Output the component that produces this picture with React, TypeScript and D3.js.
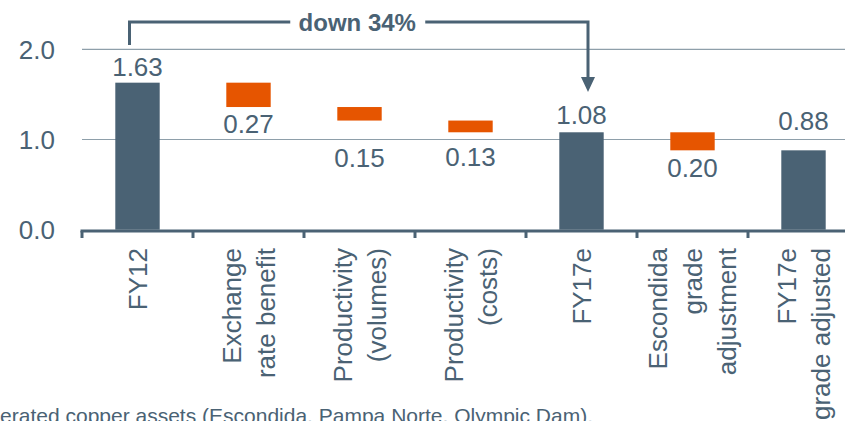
import React from "react";
import * as d3 from "d3";

const categories: string[][] = [
  ["FY12"],
  ["Exchange", "rate benefit"],
  ["Productivity", "(volumes)"],
  ["Productivity", "(costs)"],
  ["FY17e"],
  ["Escondida", "grade", "adjustment"],
  ["FY17e", "grade adjusted"],
];
const values: number[] = [1.63, -0.27, -0.15, -0.13, 1.08, -0.2, 0.88];
const isTotal: boolean[] = [true, false, false, false, true, false, true];
const valueLabels: string[] = ["1.63", "0.27", "0.15", "0.13", "1.08", "0.20", "0.88"];
const yTicks: number[] = [0, 1, 2];
const yTickLabels: string[] = ["0.0", "1.0", "2.0"];
const annotationText = "down 34%";
const footnote = "operated copper assets (Escondida, Pampa Norte, Olympic Dam).";

const W = 845;
const H = 421;
const SLATE = "#4a6274";
const ORANGE = "#e65500";
const GRID = "#8e9faa";
const FONT = "'Liberation Sans', Arial, sans-serif";

// label offsets (layout only)
const labelDy = [-7, 26, 46, 33.5, -8.5, 27, -20.5];

export default function App() {
  const keys = categories.map((_, i) => String(i));
  const x0 = 82;
  const x1 = 82 + 111 * 7;
  const x = d3.scaleBand<string>().domain(keys).range([x0, x1]).paddingInner(0.6).paddingOuter(0.3);
  const xb = d3.scaleBand<string>().domain(keys).range([x0, x1]).padding(0);
  const y = d3.scaleLinear().domain([0, 2]).range([229.7, 49.3]);

  // waterfall computation
  let running = 0;
  const bars = values.map((v, i) => {
    let top: number, bottom: number;
    if (isTotal[i]) {
      running = v;
      top = v;
      bottom = 0;
    } else {
      const start = running;
      running = start + v;
      top = Math.max(start, running);
      bottom = Math.min(start, running);
    }
    return { i, top, bottom, total: isTotal[i] };
  });

  const axisY = 231;
  const bw = x.bandwidth();

  const c0 = x(keys[0])! + bw / 2;
  const c4 = x(keys[4])! + bw / 2;
  const leftX = c0 - 8;
  const rightX = c4 + 6.5;
  const bracketTop = 22;
  const textX = (leftX + rightX) / 2 - 1.5;
  const arrowTip = 92;

  return (
    <svg width={W} height={H} style={{ position: "absolute", left: 0, top: 0 }} fontFamily={FONT}>
      <rect x={0} y={0} width={W} height={H} fill="#fff" />
      {/* gridlines */}
      {yTicks.filter((t) => t > 0).map((t) => (
        <line key={t} x1={x0} x2={W} y1={y(t)} y2={y(t)} stroke={GRID} strokeWidth={1.2} />
      ))}
      {/* y tick labels */}
      {yTicks.map((t, i) => (
        <text key={t} x={55} y={y(t) + 9.5} textAnchor="end" fontSize={26} fill={SLATE}>
          {yTickLabels[i]}
        </text>
      ))}
      {/* bars */}
      {bars.map((b) => (
        <rect
          key={b.i}
          x={x(keys[b.i])!}
          y={y(b.top)}
          width={bw}
          height={y(b.bottom) - y(b.top)}
          fill={b.total ? SLATE : ORANGE}
        />
      ))}
      {/* value labels */}
      {bars.map((b) => (
        <text
          key={b.i}
          x={x(keys[b.i])! + bw / 2}
          y={(b.total ? y(b.top) : y(b.bottom)) + labelDy[b.i]}
          textAnchor="middle"
          fontSize={26}
          fill={SLATE}
        >
          {valueLabels[b.i]}
        </text>
      ))}
      {/* x axis */}
      <line x1={x0 - 1.5} x2={W} y1={axisY} y2={axisY} stroke={SLATE} strokeWidth={3} />
      {keys.map((k) => (
        <line key={k} x1={xb(k)!} x2={xb(k)!} y1={axisY} y2={238} stroke={SLATE} strokeWidth={3} />
      ))}
      <line x1={xb(keys[6])! + xb.bandwidth()} x2={xb(keys[6])! + xb.bandwidth()} y1={axisY} y2={238} stroke={SLATE} strokeWidth={3} />
      {/* category labels */}
      {categories.map((lines, i) => {
        const cx = x(keys[i])! + bw / 2;
        const n = lines.length;
        const sp = 34.5;
        return (
          <text key={i} transform={`translate(${cx},248) rotate(-90)`} textAnchor="end" fontSize={26} fill={SLATE}>
            {lines.map((l, j) => (
              <tspan key={j} x={0} y={(j - (n - 1) / 2) * sp + 9.3}>
                {l}
              </tspan>
            ))}
          </text>
        );
      })}
      {/* annotation */}
      <path
        d={`M${leftX},45 V${bracketTop} H${textX - 67}`}
        fill="none"
        stroke={SLATE}
        strokeWidth={3}
      />
      <path
        d={`M${textX + 68},${bracketTop} H${rightX} V${arrowTip - 12}`}
        fill="none"
        stroke={SLATE}
        strokeWidth={3}
      />
      <path
        d={`M${rightX - 7},${arrowTip - 15} L${rightX + 7},${arrowTip - 15} L${rightX},${arrowTip} Z`}
        fill={SLATE}
      />
      <text x={textX} y={31} textAnchor="middle" fontSize={24} fontWeight="bold" fill={SLATE}>
        {annotationText}
      </text>
      {/* footnote */}
      <text x={593} y={423} textAnchor="end" fontSize={21} fill={SLATE}>
        {footnote}
      </text>
    </svg>
  );
}
